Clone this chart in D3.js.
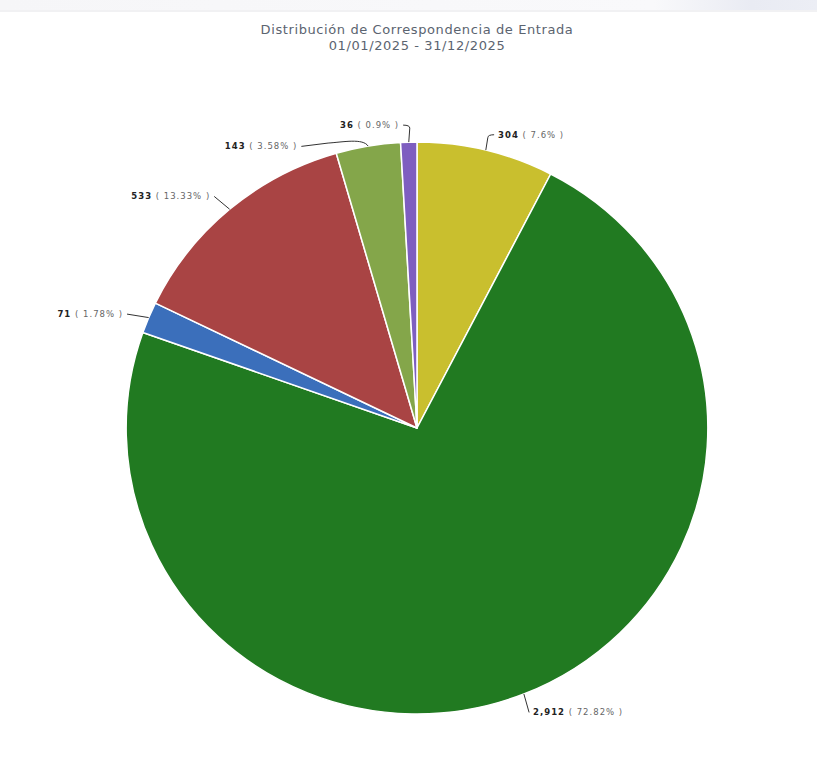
<!DOCTYPE html>
<html><head><meta charset="utf-8">
<script src="https://cdn.jsdelivr.net/npm/d3@7"></script>
<style>body{margin:0;background:#fff;}svg{display:block;}</style>
</head><body>
<script>
const categories = ["A","B","C","D","E","F"];
const values = [304, 2912, 71, 533, 143, 36];
const percents = ["7.6%", "72.82%", "1.78%", "13.33%", "3.58%", "0.9%"];
const colors = ["#c9bf2e", "#217a21", "#3b6fbb", "#a94444", "#84a64a", "#7e5ec0"];
const titleLines = ["Distribución de Correspondencia de Entrada", "01/01/2025 - 31/12/2025"];

const W = 817, H = 782, cx = 417, cy = 428, R = 286, SX = 1.017;
const svg = d3.select("body").append("svg").attr("width", W).attr("height", H);

// top header strip
const defs = svg.append("defs");
const g1 = defs.append("linearGradient").attr("id","hdr").attr("x1",0).attr("x2",1);
g1.append("stop").attr("offset","0").attr("stop-color","#f6f6f8");
g1.append("stop").attr("offset","0.8").attr("stop-color","#f9f9fb");
g1.append("stop").attr("offset","0.92").attr("stop-color","#e9ebf3");
g1.append("stop").attr("offset","1").attr("stop-color","#eceef5");
svg.append("rect").attr("x",0).attr("y",0).attr("width",W).attr("height",10).attr("fill","url(#hdr)");
svg.append("rect").attr("x",0).attr("y",10).attr("width",W).attr("height",2).attr("fill","#f1f1f3");

svg.selectAll("text.title").data(titleLines).join("text")
  .attr("x", cx).attr("y", (d,i)=> 34 + i*16)
  .attr("text-anchor","middle")
  .attr("font-family","DejaVu Sans, sans-serif")
  .attr("font-size", 13)
  .attr("fill", "#5b6470")
  .attr("letter-spacing", 0.6)
  .text(d=>d);

const pie = d3.pie().sort(null).value(d=>d.v);
const data = values.map((v,i)=>({v, p:percents[i], c:colors[i], i}));
const arcs = pie(data);
const arc = d3.arc().innerRadius(0).outerRadius(R);

const g = svg.append("g").attr("transform",`translate(${cx},${cy})`);
g.append("g").attr("transform",`scale(${SX},1)`)
  .selectAll("path.slice").data(arcs).join("path")
  .attr("d", arc).attr("fill", d=>d.data.c)
  .attr("stroke","#fff").attr("stroke-width",1.5).attr("stroke-linejoin","round");

// label layout: nudges from natural position (radius R+22) for crowded labels
const labelNudge = [[3,6],[-3,-2],[-1,5],[-1,4],[-63,22],[-5,5]];
const fmt = d3.format(",");
arcs.forEach((a,k) => {
  const mid = (a.startAngle + a.endAngle)/2;
  const s = Math.sin(mid), c = -Math.cos(mid);
  const ex = s*R*SX, ey = c*R;
  const lx = s*(R+22)*SX + labelNudge[k][0], ly = c*(R+22) + labelNudge[k][1];
  const right = s > 0.05;
  const tx = right ? lx + 4 : lx - 4;
  let path;
  if (k === 4) {
    path = `M${ex},${ey} C${ex-5},${ey-8} ${ex-25},${ey-4} ${ex-40},${ey-3} L${lx},${ly}`;
  } else if (k === 5 || k === 0) {
    const bx = ex + (k===0?2:1);
    path = `M${ex},${ey} L${bx},${ly+3} Q${bx},${ly} ${lx},${ly}`;
  } else {
    path = `M${ex},${ey} L${lx},${ly}`;
  }
  g.append("path").attr("d", path).attr("fill","none").attr("stroke","#333").attr("stroke-width",1);
  const t = g.append("text").attr("x", tx).attr("y", ly + 3)
    .attr("text-anchor", right ? "start" : "end")
    .attr("font-family","DejaVu Sans, sans-serif").attr("font-size", 8.5)
    .attr("letter-spacing", 1.0);
  t.append("tspan").attr("font-weight","bold").attr("fill","#222").text(fmt(a.data.v));
  t.append("tspan").attr("fill","#666").text(` ( ${a.data.p} )`);
});
</script>
</body></html>
